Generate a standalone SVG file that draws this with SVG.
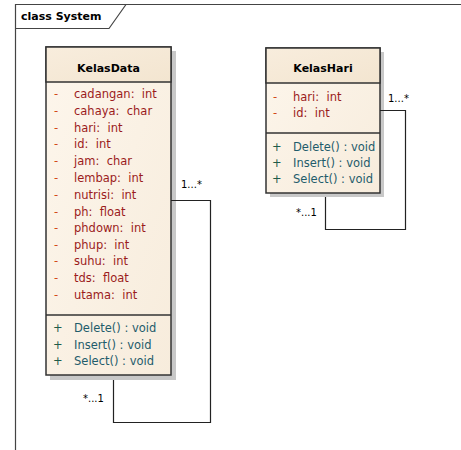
<svg xmlns="http://www.w3.org/2000/svg" width="461" height="450" viewBox="0 0 461 450">
<defs>
<linearGradient id="body" x1="0" y1="0" x2="1" y2="1">
<stop offset="0" stop-color="#fdf6ec"/>
<stop offset="1" stop-color="#f7ecdc"/>
</linearGradient>
<linearGradient id="head" x1="0" y1="0" x2="1" y2="1">
<stop offset="0" stop-color="#f8eddd"/>
<stop offset="1" stop-color="#f3e5d0"/>
</linearGradient>
</defs>
<style>
text{font-family:"DejaVu Sans",Verdana,sans-serif;font-size:11.5px;white-space:pre;}
.title{font-weight:bold;font-size:11px;fill:#000;}
.attr{fill:#9b1c1c;}
.dash{fill:#d2491a;}
.op{fill:#1f5c6b;}
.plus{fill:#1f5c4b;}
.lbl{fill:#000;font-size:10px;}
.box{stroke:#333;stroke-width:1.5;}
.shadow{fill:#c8c8c8;}
.conn{fill:none;stroke:#222;stroke-width:1.2;}
</style>
<rect width="461" height="450" fill="#fff"/>
<g id="frame">
<path d="M15.5,450 V4.5 H461" fill="none" stroke="#444" stroke-width="1.2"/>
<path d="M15.5,28.5 H109 L126,4.5" fill="none" stroke="#444" stroke-width="1.2"/>
<text x="21" y="20" class="title">class System</text>
</g>
<g id="KelasData">
<rect x="50" y="51" width="126" height="329" class="shadow"/>
<rect x="46" y="47" width="125" height="328" fill="url(#body)" class="box"/>
<rect x="46" y="47" width="125" height="35" fill="url(#head)" class="box"/>
<line x1="46" y1="315" x2="171" y2="315" class="box"/>
<text x="108.5" y="72" class="title" text-anchor="middle">KelasData</text>
<text x="54" y="98" class="dash">-</text><text x="74" y="98" class="attr">cadangan:  int</text>
<text x="54" y="115" class="dash">-</text><text x="74" y="115" class="attr">cahaya:  char</text>
<text x="54" y="132" class="dash">-</text><text x="74" y="132" class="attr">hari:  int</text>
<text x="54" y="148" class="dash">-</text><text x="74" y="148" class="attr">id:  int</text>
<text x="54" y="165" class="dash">-</text><text x="74" y="165" class="attr">jam:  char</text>
<text x="54" y="182" class="dash">-</text><text x="74" y="182" class="attr">lembap:  int</text>
<text x="54" y="199" class="dash">-</text><text x="74" y="199" class="attr">nutrisi:  int</text>
<text x="54" y="216" class="dash">-</text><text x="74" y="216" class="attr">ph:  float</text>
<text x="54" y="232" class="dash">-</text><text x="74" y="232" class="attr">phdown:  int</text>
<text x="54" y="249" class="dash">-</text><text x="74" y="249" class="attr">phup:  int</text>
<text x="54" y="265" class="dash">-</text><text x="74" y="265" class="attr">suhu:  int</text>
<text x="54" y="282" class="dash">-</text><text x="74" y="282" class="attr">tds:  float</text>
<text x="54" y="299" class="dash">-</text><text x="74" y="299" class="attr">utama:  int</text>
<text x="53" y="332" class="plus">+</text><text x="74" y="332" class="op">Delete() : void</text>
<text x="53" y="349" class="plus">+</text><text x="74" y="349" class="op">Insert() : void</text>
<text x="53" y="365" class="plus">+</text><text x="74" y="365" class="op">Select() : void</text>
</g>
<g id="KelasHari">
<rect x="270" y="52" width="114" height="145" class="shadow"/>
<rect x="266" y="48" width="114" height="145" fill="url(#body)" class="box"/>
<rect x="266" y="48" width="114" height="35" fill="url(#head)" class="box"/>
<line x1="266" y1="133" x2="380" y2="133" class="box"/>
<text x="323" y="72" class="title" text-anchor="middle">KelasHari</text>
<text x="273" y="101" class="dash">-</text><text x="293" y="101" class="attr">hari:  int</text>
<text x="273" y="117" class="dash">-</text><text x="293" y="117" class="attr">id:  int</text>
<text x="272" y="151" class="plus">+</text><text x="293" y="151" class="op">Delete() : void</text>
<text x="272" y="167" class="plus">+</text><text x="293" y="167" class="op">Insert() : void</text>
<text x="272" y="183" class="plus">+</text><text x="293" y="183" class="op">Select() : void</text>
</g>
<g id="connectors">
<path class="conn" d="M171,200.5 H210.5 V422.5 H113.5 V380"/>
<path class="conn" d="M380,110.5 H405.5 V229.5 H325.5 V197"/>
<text x="181" y="188" class="lbl">1...*</text>
<text x="83" y="402" class="lbl">*...1</text>
<text x="388" y="102" class="lbl">1...*</text>
<text x="296" y="216" class="lbl">*...1</text>
</g>
</svg>
